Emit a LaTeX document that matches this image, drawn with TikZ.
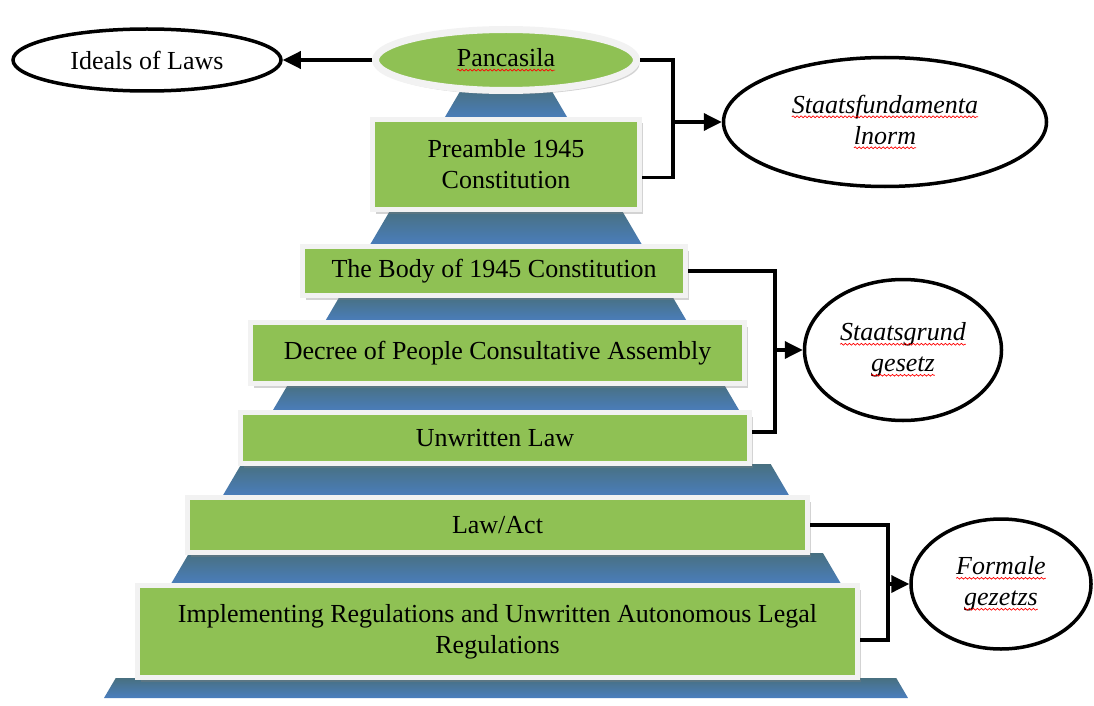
\documentclass[tikz,border=0pt]{standalone}
\usepackage{fontspec}
\setmainfont{Liberation Serif}
\usetikzlibrary{shapes.geometric,shadows,arrows.meta,decorations.pathmorphing}

\definecolor{lvgreen}{RGB}{143,193,84}
\definecolor{lvrim}{RGB}{242,242,242}
\definecolor{pyrblue}{RGB}{74,126,190}
\definecolor{pyrteal}{RGB}{72,112,128}
\newcommand{\lvfont}{\fontsize{26}{31}\selectfont}
% spell-check wave under a word
\newcommand{\redwave}[1]{\tikz[baseline=(w.base)]{\node[rectangle, draw=none, fill=none,
    minimum width=0pt, minimum height=0pt, inner sep=0pt, outer sep=0pt] (w) {#1};
  \draw[red, line width=0.7pt, decorate, decoration={snake, amplitude=0.9pt, segment length=4pt}]
    ([yshift=-3.5pt]w.base west) -- ([yshift=-3.5pt]w.base east);}}

\begin{document}
\begin{tikzpicture}[x=1pt, y=-1pt, line width=3.5pt,
  >={Triangle[length=18pt,width=17pt]},
  level/.style={draw=lvrim, line width=5pt, fill=lvgreen, inner sep=0pt,
    align=center, font=\lvfont,
    drop shadow={shadow xshift=3pt, shadow yshift=-4pt, opacity=0.35}},
  normbox/.style={ellipse, draw, line width=3.5pt, fill=white, inner sep=0pt,
    align=center, font=\lvfont}]
\useasboundingbox (0,0) rectangle (1094,706);

% pyramid behind the levels
\begin{scope}
\clip (462,88) -- (550,88) -- (908,698) -- (104,698) -- cycle;
\foreach \ya/\yb in {88/120, 210/246, 296/322, 384/412, 464/497, 553/585, 678/698}
  \shade[top color=pyrteal, bottom color=pyrblue] (0,\ya) rectangle (1094,\yb);
\end{scope}

\node[level, ellipse, line width=7pt, minimum width=261pt, minimum height=61pt] (pan) at (506,60) {\redwave{Pancasila}};
\node[level, minimum width=267pt, minimum height=90pt] (pre) at (506,164.5) {Preamble 1945\\Constitution};
\node[level, minimum width=383pt, minimum height=49pt] (body) at (494,271) {The Body of 1945 Constitution};
\node[level, minimum width=494pt, minimum height=61pt] (dec) at (497.5,353) {Decree of People Consultative Assembly};
\node[level, minimum width=509pt, minimum height=51pt] (unw) at (495,438) {Unwritten Law};
\node[level, minimum width=620pt, minimum height=55pt] (law) at (497.5,525) {Law/Act};
\node[level, minimum width=720pt, minimum height=92pt] (impl) at (497.5,631.5) {Implementing Regulations and Unwritten Autonomous Legal\\Regulations};

\node[normbox, minimum width=268pt, minimum height=62pt] (ideal) at (147,60) {Ideals of Laws};
\node[normbox, font=\lvfont\itshape, minimum width=323pt, minimum height=129pt] (sfn) at (885,122) {\redwave{Staatsfundamenta}\\\redwave{lnorm}};
\node[normbox, font=\lvfont\itshape, minimum width=197pt, minimum height=141pt] (sgg) at (903,350) {\redwave{Staatsgrund}\\\redwave{gesetz}};
\node[normbox, font=\lvfont\itshape, minimum width=180pt, minimum height=130pt] (fg) at (1001,584) {\redwave{Formale}\\\redwave{gezetzs}};

\coordinate (k1) at (673,122);
\coordinate (k2) at (775,350);
\coordinate (k3) at (888,584);

\path[->] (pan.west) edge (ideal.east);
\draw (pan.east) -| (k1) |- ([yshift=-13pt]pre.east);
\draw[->] (k1) -- (sfn.west);
\draw (body.east) -| (k2) |- ([yshift=6pt]unw.east);
\draw[->] (k2) -- (sgg.west);
\draw (law.east) -| (k3) |- ([yshift=-8.5pt]impl.east);
\draw[->] (k3) -- (fg.west);
\end{tikzpicture}
\end{document}
